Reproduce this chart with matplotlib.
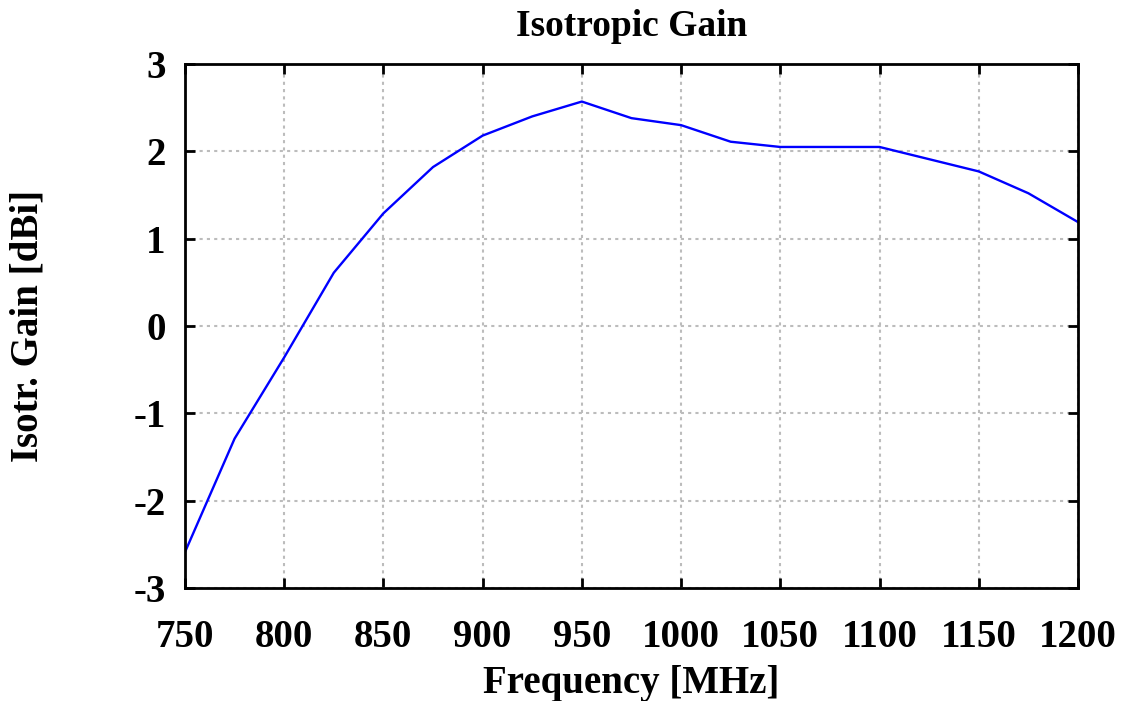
import numpy as np
import matplotlib
matplotlib.use("Agg")
import matplotlib.pyplot as plt

# frequency [MHz] and isotropic gain [dBi]
freq = [750, 775, 800, 825, 850, 875, 900, 925, 950, 975, 1000,
        1025, 1050, 1075, 1100, 1125, 1150, 1175, 1200]
gain = [-2.59, -1.29, -0.36, 0.61, 1.29, 1.82, 2.18, 2.40, 2.57, 2.38, 2.30,
        2.11, 2.05, 2.05, 2.05, 1.91, 1.77, 1.52, 1.19]

xticks = [750, 800, 850, 900, 950, 1000, 1050, 1100, 1150, 1200]
yticks = [-3, -2, -1, 0, 1, 2, 3]

plt.rcParams['font.family'] = ['Liberation Serif', 'DejaVu Serif']
plt.rcParams['font.weight'] = 'bold'
plt.rcParams['axes.unicode_minus'] = False

fig = plt.figure(figsize=(11.25, 7.01), dpi=100)
ax = fig.add_axes([0.1644, 0.1612, 0.7938, 0.7475])

ax.plot(freq, gain, color="#0000ff", lw=1.7)

ax.set_xlim(750, 1200)
ax.set_ylim(-3, 3)
ax.set_xticks(xticks)
ax.set_yticks(yticks)
ax.grid(True, color="#bcbcbc", linestyle=(0, (1.5, 2.0)), lw=1.5)

ax.tick_params(direction="in", length=7, width=2, top=True, right=True,
               labelsize=28)
ax.tick_params(axis="x", pad=22)
ax.tick_params(axis="y", pad=14)
for s in ax.spines.values():
    s.set_linewidth(2)

ax.set_title("Isotropic Gain", fontsize=27, fontweight="bold", pad=20)
ax.set_xlabel("Frequency [MHz]", fontsize=28, fontweight="bold", labelpad=7)
ax.set_ylabel("Isotr. Gain [dBi]", fontsize=28, fontweight="bold")
ax.yaxis.set_label_coords(-0.155, 0.5)

fig.savefig("out.png", dpi=100)
